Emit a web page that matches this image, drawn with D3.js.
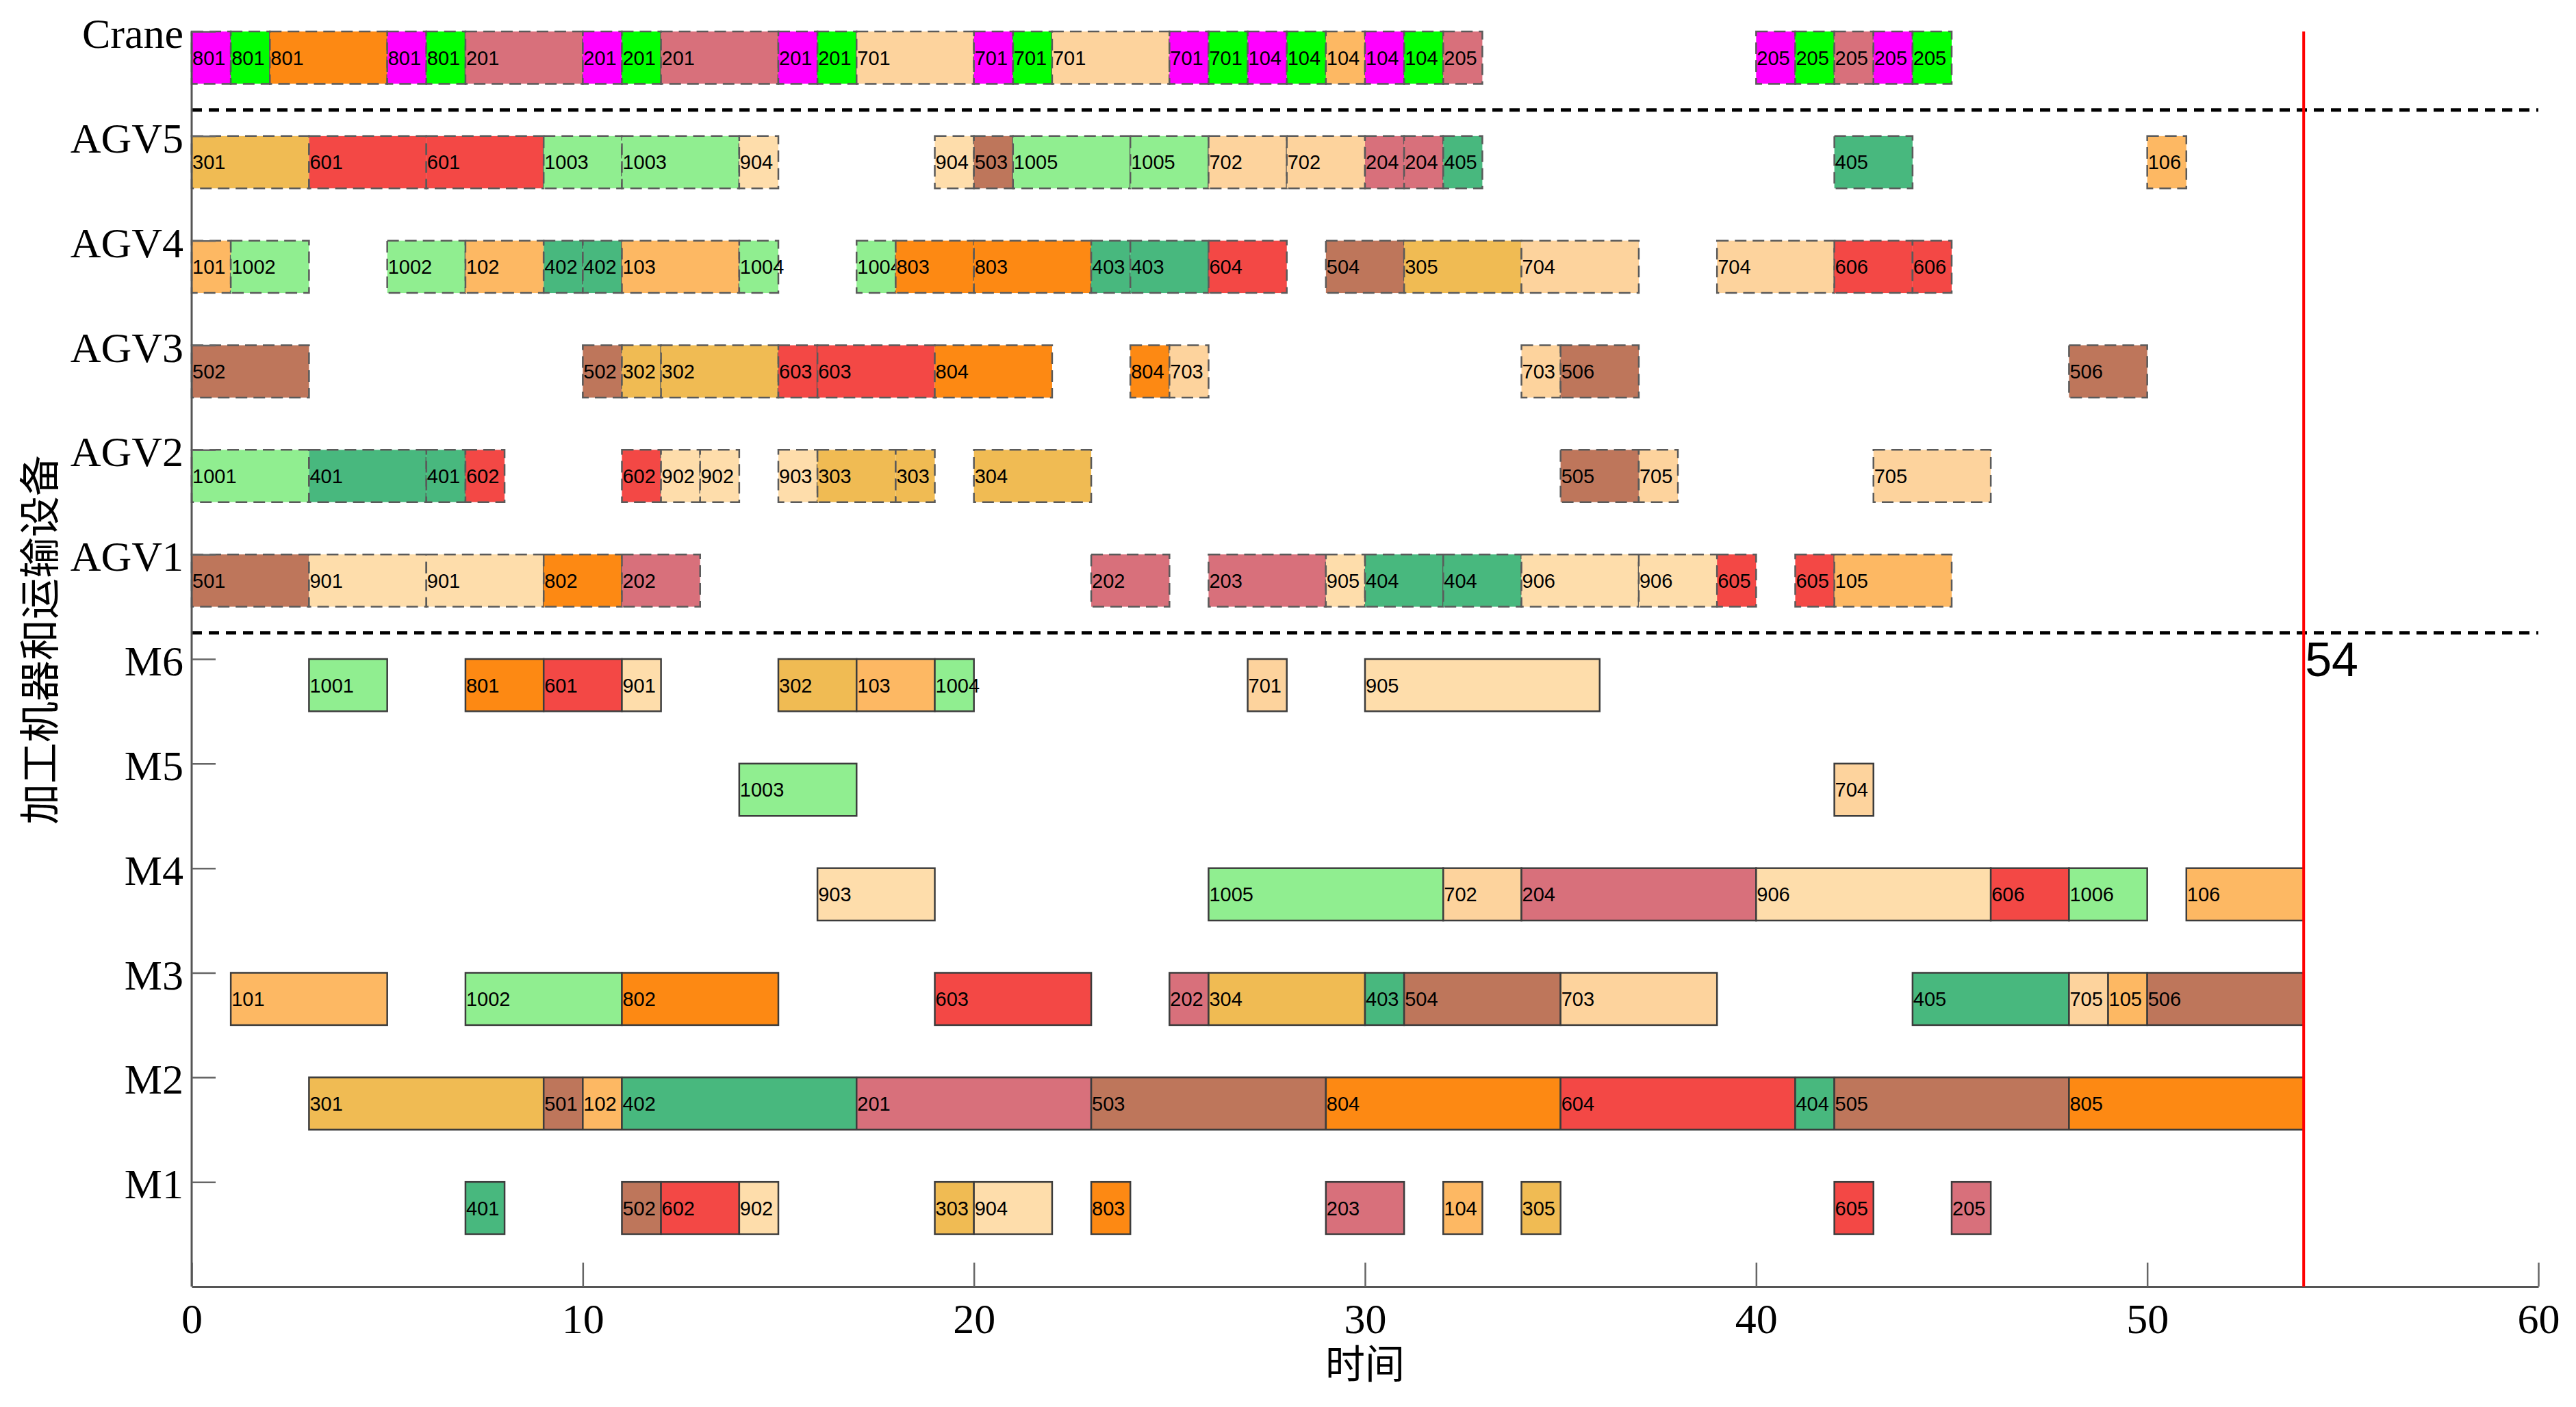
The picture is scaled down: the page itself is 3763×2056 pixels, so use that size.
<!DOCTYPE html>
<html lang="zh">
<head>
<meta charset="utf-8">
<title>调度甘特图</title>
<script src="https://d3js.org/d3.v7.min.js"></script>
<style>
  body { margin: 0; background: #fff; }
</style>
</head>
<body>
<div id="chart"></div>
<script>
// row names from bottom to top (value 1..12)
var rowNames = ["M1", "M2", "M3", "M4", "M5", "M6", "AGV1", "AGV2", "AGV3", "AGV4", "AGV5", "Crane"];
var xTicks = [0, 10, 20, 30, 40, 50, 60];
var makespan = 54;

// machines: [operation, start, end]
var m1 = [[401, 7, 8], [502, 11, 12], [602, 12, 14], [902, 14, 15], [303, 19, 20], [904, 20, 22],
          [803, 23, 24], [203, 29, 31], [104, 32, 33], [305, 34, 35], [605, 42, 43], [205, 45, 46]];
var m2 = [[301, 3, 9], [501, 9, 10], [102, 10, 11], [402, 11, 17], [201, 17, 23], [503, 23, 29],
          [804, 29, 35], [604, 35, 41], [404, 41, 42], [505, 42, 48], [805, 48, 54]];
var m3 = [[101, 1, 5], [1002, 7, 11], [802, 11, 15], [603, 19, 23], [202, 25, 26], [304, 26, 30],
          [403, 30, 31], [504, 31, 35], [703, 35, 39], [405, 44, 48], [705, 48, 49], [105, 49, 50], [506, 50, 54]];
var m4 = [[903, 16, 19], [1005, 26, 32], [702, 32, 34], [204, 34, 40], [906, 40, 46], [606, 46, 48],
          [1006, 48, 50], [106, 51, 54]];
var m5 = [[1003, 14, 17], [704, 42, 43]];
var m6 = [[1001, 3, 5], [801, 7, 9], [601, 9, 11], [901, 11, 12], [302, 15, 17], [103, 17, 19],
          [1004, 19, 20], [701, 27, 28], [905, 30, 36]];

// AGVs: [operation, start, end]
var agv1 = [[501, 0, 3], [901, 3, 6], [901, 6, 9], [802, 9, 11], [202, 11, 13], [202, 23, 25], [203, 26, 29],
            [905, 29, 30], [404, 30, 32], [404, 32, 34], [906, 34, 37], [906, 37, 39], [605, 39, 40],
            [605, 41, 42], [105, 42, 45]];
var agv2 = [[1001, 0, 3], [401, 3, 6], [401, 6, 7], [602, 7, 8], [602, 11, 12], [902, 12, 13], [902, 13, 14],
            [903, 15, 16], [303, 16, 18], [303, 18, 19], [304, 20, 23], [505, 35, 37], [705, 37, 38], [705, 43, 46]];
var agv3 = [[502, 0, 3], [502, 10, 11], [302, 11, 12], [302, 12, 15], [603, 15, 16], [603, 16, 19],
            [804, 19, 22], [804, 24, 25], [703, 25, 26], [703, 34, 35], [506, 35, 37], [506, 48, 50]];
var agv4 = [[101, 0, 1], [1002, 1, 3], [1002, 5, 7], [102, 7, 9], [402, 9, 10], [402, 10, 11], [103, 11, 14],
            [1004, 14, 15], [1004, 17, 18], [803, 18, 20], [803, 20, 23], [403, 23, 24], [403, 24, 26],
            [604, 26, 28], [504, 29, 31], [305, 31, 34], [704, 34, 37], [704, 39, 42], [606, 42, 44], [606, 44, 45]];
var agv5 = [[301, 0, 3], [601, 3, 6], [601, 6, 9], [1003, 9, 11], [1003, 11, 14], [904, 14, 15],
            [904, 19, 20], [503, 20, 21], [1005, 21, 24], [1005, 24, 26], [702, 26, 28], [702, 28, 30],
            [204, 30, 31], [204, 31, 32], [405, 32, 33], [405, 42, 44], [106, 50, 51]];

// crane: [operation, start, end, phase]
var crane = [[801, 0, 1, "go"], [801, 1, 2, "lift"], [801, 2, 5, "carry"], [801, 5, 6, "go"], [801, 6, 7, "lift"],
             [201, 7, 10, "carry"], [201, 10, 11, "go"], [201, 11, 12, "lift"], [201, 12, 15, "carry"],
             [201, 15, 16, "go"], [201, 16, 17, "lift"], [701, 17, 20, "carry"], [701, 20, 21, "go"],
             [701, 21, 22, "lift"], [701, 22, 25, "carry"], [701, 25, 26, "go"], [701, 26, 27, "lift"],
             [104, 27, 28, "go"], [104, 28, 29, "lift"], [104, 29, 30, "carry"], [104, 30, 31, "go"],
             [104, 31, 32, "lift"], [205, 32, 33, "carry"], [205, 40, 41, "go"], [205, 41, 42, "lift"],
             [205, 42, 43, "carry"], [205, 43, 44, "go"], [205, 44, 45, "lift"]];

var jobColors = ["#FDB863", "#D8707B", "#F0BB53", "#48B87E", "#BE765B",
                 "#F34845", "#FDD39D", "#FD8913", "#FEDDAB", "#90EE90"];
var phaseColors = { go: "#FF00FF", lift: "#00FF00" };

var width = 3763, height = 2056;
var svg = d3.select("#chart").append("svg")
    .attr("width", width)
    .attr("height", height)
    .style("display", "block");

var x = d3.scaleLinear().domain([0, 60]).range([280, 3708]);
var y = d3.scaleLinear().domain([0, 12]).range([1880, 46]);
var barH = y(0.5) - y(1);

function jobColor(op) {
    return jobColors[Math.floor(op / 100) - 1];
}

// one row of blocks; rect + label in order so later blocks cover overflowing text
function drawRow(data, rowValue, dashed) {
    var g = svg.append("g");
    data.forEach(function(d) {
        var fill = d[3] && d[3] !== "carry" ? phaseColors[d[3]] : jobColor(d[0]);
        g.append("rect")
            .attr("x", x(d[1]))
            .attr("y", y(rowValue))
            .attr("width", x(d[2]) - x(d[1]))
            .attr("height", barH)
            .attr("fill", fill)
            .attr("stroke", dashed ? "#5a5a5a" : "#3c3c3c")
            .attr("stroke-width", 2.5)
            .attr("stroke-dasharray", dashed ? "17,9" : null);
        g.append("text")
            .attr("x", x(d[1]) + 1)
            .attr("y", y(rowValue) + barH / 2)
            .attr("dy", "0.36em")
            .style("font-family", "'Liberation Sans', Arial, sans-serif")
            .style("font-size", "29px")
            .text(d[0]);
    });
}

var machineRows = [m1, m2, m3, m4, m5, m6];
var agvRows = [agv1, agv2, agv3, agv4, agv5];
machineRows.forEach(function(r, i) { drawRow(r, i + 1, false); });
agvRows.forEach(function(r, i) { drawRow(r, i + 7, true); });
drawRow(crane, 12, true);

// separators between machines / AGVs / crane
[6.25, 11.25].forEach(function(v) {
    svg.append("line")
        .attr("x1", x(0)).attr("x2", x(60))
        .attr("y1", y(v)).attr("y2", y(v))
        .attr("stroke", "#000")
        .attr("stroke-width", 5)
        .attr("stroke-dasharray", "15,10");
});

// axes
var xAxis = svg.append("g")
    .attr("transform", "translate(0," + y(0) + ")")
    .call(d3.axisBottom(x).tickValues(xTicks).tickSizeInner(-35).tickSizeOuter(0).tickPadding(24));
var yAxis = svg.append("g")
    .attr("transform", "translate(" + x(0) + ",0)")
    .call(d3.axisLeft(y).tickValues(d3.range(1, 13)).tickFormat(function(v) { return rowNames[v - 1]; })
        .tickSizeInner(-35).tickSizeOuter(0).tickPadding(12));
yAxis.select(".domain").attr("d", "M0," + y(12) + "V" + y(0));

[xAxis, yAxis].forEach(function(a) {
    a.select(".domain").attr("stroke", "#555").attr("stroke-width", 3);
    a.selectAll(".tick line").attr("stroke", "#666").attr("stroke-width", 2.5);
    a.selectAll(".tick text")
        .attr("fill", "#000")
        .style("font-family", "'Liberation Serif', 'Times New Roman', serif")
        .style("font-size", "62px");
});
yAxis.selectAll(".tick text").attr("dy", "0.38em");

// makespan line
svg.append("line")
    .attr("x1", x(makespan)).attr("x2", x(makespan))
    .attr("y1", y(12)).attr("y2", y(0))
    .attr("stroke", "#FF0000")
    .attr("stroke-width", 4);
svg.append("text")
    .attr("x", x(makespan) + 2)
    .attr("y", y(6))
    .attr("dy", "0.36em")
    .style("font-family", "'Liberation Sans', Arial, sans-serif")
    .style("font-size", "70px")
    .text(makespan);

// axis titles
svg.append("text")
    .attr("x", (x(0) + x(60)) / 2)
    .attr("y", 2014)
    .attr("text-anchor", "middle")
    .style("font-family", "'Noto Sans CJK SC', sans-serif")
    .style("font-size", "58px")
    .text("时间");
svg.append("text")
    .attr("transform", "translate(80,935) rotate(-90)")
    .attr("text-anchor", "middle")
    .style("font-family", "'Noto Sans CJK SC', sans-serif")
    .style("font-size", "60px")
    .text("加工机器和运输设备");
</script>
</body>
</html>
